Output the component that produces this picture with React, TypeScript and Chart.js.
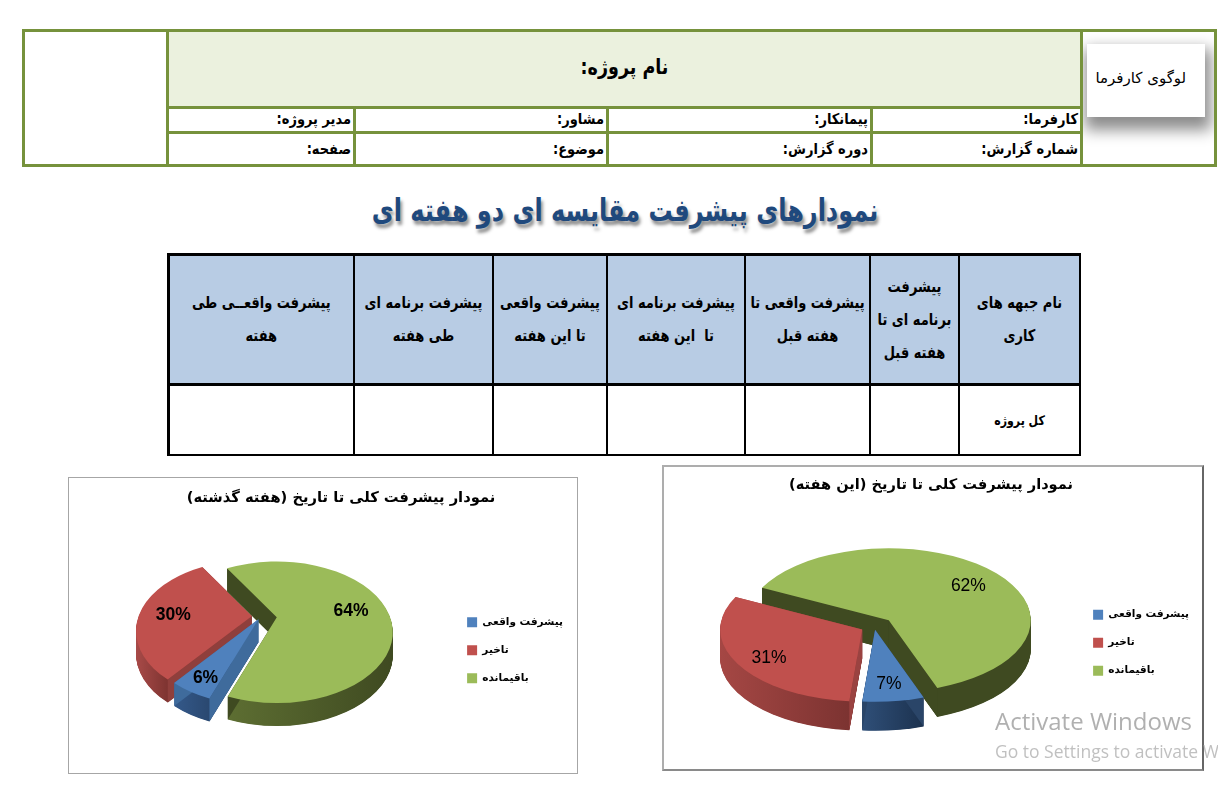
import React, { useEffect, useRef } from "react";
import { Chart, registerables } from "chart.js";

Chart.register(...registerables);

const FONT = '"DejaVu Sans", sans-serif';

// ---- data ----
const pieLabels = ["پیشرفت واقعی", "تاخیر", "باقیمانده"];
const lastWeekValues = [6, 30, 64];
const thisWeekValues = [7, 31, 62];
const pieColors = ["#4f81bd", "#c0504d", "#9bbb59"];
const lastWeekTitle = "نمودار پیشرفت کلی تا تاریخ (هفته گذشته)";
const thisWeekTitle = "نمودار پیشرفت کلی تا تاریخ (این هفته)";
const projectTitle = "نام پروژه:";
const logoText = "لوگوی کارفرما";
const pageHeading = "نمودارهای پیشرفت مقایسه ای دو هفته ای";
const infoRow1 = ["مدیر پروژه:", "مشاور:", "پیمانکار:", "کارفرما:"];
const infoRow2 = ["صفحه:", "موضوع:", "دوره گزارش:", "شماره گزارش:"];
const tableHeaders = [
  ["پیشرفت واقعــی طی", "هفته"],
  ["پیشرفت برنامه ای", "طی هفته"],
  ["پیشرفت واقعی", "تا این هفته"],
  ["پیشرفت برنامه ای", "تا  این هفته"],
  ["پیشرفت واقعی تا", "هفته قبل"],
  ["پیشرفت", "برنامه ای تا", "هفته قبل"],
  ["نام جبهه های", "کاری"],
];
const totalRowLabel = "کل پروژه";

// ---- layout ----
const infoCols: [number, number][] = [[169, 353], [356, 606], [609, 870], [873, 1080]];
const tableCols: [number, number][] = [[169.5, 353], [355, 492], [494, 606], [608, 744], [746, 869], [871, 958], [960, 1079]];

type Pie3D = {
  radius: number; squash: number; depth: number; lift: number; dx: number; dy: number;
  explode: number[]; nudgeX: number[];
  wall: [string, string][]; face: string[];
  labelFrac: number[]; labelDy: number[]; labelWeight: string;
};

const pie3dPlugin = {
  id: "pie3d",
  beforeDatasetsDraw(chart: any, _a: any, o: Pie3D) {
    const ctx: CanvasRenderingContext2D = chart.ctx;
    const meta = chart.getDatasetMeta(0);
    const values: number[] = chart.data.datasets[0].data;
    const geo = meta.data.map((arc: any, i: number) => {
      const mid = (arc.startAngle + arc.endAngle) / 2;
      const R = arc.outerRadius;
      const cx = arc.x + o.dx + Math.cos(mid) * o.explode[i] + o.nudgeX[i];
      const cy = arc.y + o.dy + Math.sin(mid) * o.explode[i] * o.squash;
      return { i, arc, mid, R, ry: R * o.squash, cx, cy, ax: cx, ay: cy - o.lift, a0: arc.startAngle, a1: arc.endAngle };
    });
    const path = (g: any, d: number) => {
      ctx.beginPath();
      ctx.moveTo(g.ax, g.ay + d);
      ctx.ellipse(g.cx, g.cy + d, g.R, g.ry, 0, g.a0, g.a1);
      ctx.closePath();
    };
    const sorted = [...geo].sort((a: any, b: any) => Math.sin(a.mid) - Math.sin(b.mid));
    sorted.forEach((g: any) => {
      let minX = Infinity, maxX = -Infinity;
      for (let s = 0; s <= 60; s++) {
        const t = g.a0 + ((g.a1 - g.a0) * s) / 60;
        if (Math.sin(t) >= 0) {
          const x = g.cx + g.R * Math.cos(t);
          minX = Math.min(minX, x);
          maxX = Math.max(maxX, x);
        }
      }
      const grad = ctx.createLinearGradient(minX, 0, maxX, 0);
      grad.addColorStop(0, o.wall[g.i][0]);
      grad.addColorStop(1, o.wall[g.i][1]);
      ctx.fillStyle = grad;
      for (let d = o.depth; d >= 1; d -= 0.5) {
        path(g, d);
        ctx.fill();
      }
      ctx.fillStyle = o.face[g.i];
      [g.a0, g.a1].forEach((t: number) => {
        const px = g.cx + g.R * Math.cos(t);
        const py = g.cy + g.ry * Math.sin(t);
        ctx.beginPath();
        ctx.moveTo(g.ax, g.ay);
        ctx.lineTo(px, py);
        ctx.lineTo(px, py + o.depth);
        ctx.lineTo(g.ax, g.ay + o.depth);
        ctx.closePath();
        ctx.fill();
      });
      ctx.fillStyle = g.arc.options.backgroundColor;
      path(g, 0);
      ctx.fill();
    });
    ctx.save();
    ctx.direction = "ltr";
    ctx.fillStyle = "#000";
    ctx.textAlign = "center";
    ctx.textBaseline = "middle";
    ctx.font = `${o.labelWeight} 17.5px "Liberation Sans", Arial, sans-serif`;
    geo.forEach((g: any) => {
      const f = o.labelFrac[g.i];
      const x = g.cx + Math.cos(g.mid) * g.R * f;
      const y = g.cy + Math.sin(g.mid) * g.ry * f + o.labelDy[g.i];
      ctx.fillText(`${values[g.i]}%`, x, y);
    });
    ctx.restore();
    return false;
  },
};

function PieChart(props: {
  box: { left: number; top: number; width: number; height: number };
  title: string; values: number[]; rotation: number; titleGap: number; padLeft: number; padTop: number;
  titleSize: number; pie: Pie3D;
}) {
  const ref = useRef<HTMLCanvasElement>(null);
  useEffect(() => {
    const chart = new Chart(ref.current as HTMLCanvasElement, {
      type: "pie",
      data: {
        labels: pieLabels,
        datasets: [{ data: props.values, backgroundColor: pieColors, borderWidth: 0 }],
      },
      options: {
        animation: false,
        responsive: false,
        devicePixelRatio: 1,
        rotation: props.rotation,
        radius: props.pie.radius,
        layout: { padding: { left: props.padLeft, right: 4, top: props.padTop, bottom: 0 } },
        plugins: {
          tooltip: { enabled: false },
          title: {
            display: true,
            text: props.title,
            color: "#000",
            font: { family: FONT, size: props.titleSize, weight: "bold" },
            padding: { top: 0, bottom: props.titleGap },
          },
          legend: {
            position: "right",
            fullSize: false,
            labels: {
              boxWidth: 10,
              boxHeight: 10,
              padding: 17.5,
              color: "#000",
              font: { family: FONT, size: 10.5, weight: "bold" },
            },
          },
          pie3d: props.pie,
        },
      } as any,
      plugins: [pie3dPlugin as any],
    });
    return () => chart.destroy();
  }, []);
  return (
    <canvas
      ref={ref}
      dir="rtl"
      width={props.box.width}
      height={props.box.height}
      style={{ position: "absolute", left: props.box.left, top: props.box.top, width: props.box.width, height: props.box.height, display: "block" }}
    />
  );
}

function Rect(p: { l: number; t: number; r: number; b: number; bg?: string; style?: React.CSSProperties; children?: React.ReactNode }) {
  return (
    <div style={{ position: "absolute", left: p.l, top: p.t, width: p.r - p.l, height: p.b - p.t, background: p.bg, ...p.style }}>
      {p.children}
    </div>
  );
}

function Tall(p: { sy: number; children?: React.ReactNode }) {
  return <span style={{ display: "inline-block", transform: `scaleY(${p.sy})` }}>{p.children}</span>;
}

const centered: React.CSSProperties = { display: "flex", alignItems: "center", justifyContent: "center", textAlign: "center", flexDirection: "column" };
const infoText: React.CSSProperties = { display: "flex", alignItems: "center", justifyContent: "flex-start", direction: "rtl", paddingRight: 2, boxSizing: "border-box", fontWeight: 700, fontSize: 13, color: "#000" };

const leftPie: Pie3D = {
  radius: 116, squash: 0.61, depth: 23, lift: 15, dx: -15.5, dy: -18,
  explode: [4, 12, 13], nudgeX: [-3, 0, 0],
  wall: [["#34598a", "#2a4870"], ["#a84a48", "#7e3431"], ["#5d6e32", "#3f4a21"]],
  face: ["#3f6b9c", "#8f3f3c", "#3f4a21"],
  labelFrac: [0.78, 0.69, 0.64], labelDy: [-1, -7, -21], labelWeight: "bold",
};
const rightPie: Pie3D = {
  radius: 142, squash: 0.507, depth: 29, lift: 0, dx: 9.5, dy: -18,
  explode: [10, 19, 13.3], nudgeX: [-5, 0, 0],
  wall: [["#2f4f78", "#1c324f"], ["#a54744", "#7c3331"], ["#3f4a21", "#3f4a21"]],
  face: ["#2a4568", "#9a4341", "#3f4a21"],
  labelFrac: [0.75, 0.75, 0.75], labelDy: [1, 3, 2], labelWeight: "normal",
};

export default function App() {
  return (
    <div style={{ position: "absolute", left: 0, top: 0, width: 1218, height: 794, overflow: "hidden", background: "#fff", fontFamily: FONT, color: "#000" }}>
      {/* header block */}
      <Rect l={22} t={29} r={1217} b={167} bg="#76923c" />
      <Rect l={25} t={32} r={166} b={164} bg="#fff" />
      <Rect l={169} t={32} r={1080} b={106} bg="#ebf1de" style={{ ...centered, fontWeight: 700, fontSize: 17.5, direction: "rtl", paddingBottom: 4, boxSizing: "border-box" }}><Tall sy={1.2}>{projectTitle}</Tall></Rect>
      {infoCols.map((c, i) => (
        <Rect key={"a" + i} l={c[0]} t={109} r={c[1]} b={131} bg="#fff" style={{ ...infoText, paddingBottom: 3 }}><Tall sy={1.15}>{infoRow1[i]}</Tall></Rect>
      ))}
      {infoCols.map((c, i) => (
        <Rect key={"b" + i} l={c[0]} t={134} r={c[1]} b={164} bg="#fff" style={{ ...infoText, paddingBottom: 2 }}><Tall sy={1.15}>{infoRow2[i]}</Tall></Rect>
      ))}
      <Rect l={1083} t={32} r={1214} b={164} bg="#fff" style={{ overflow: "hidden" }}>
        <Rect l={3.5} t={12} r={122} b={85} bg="#fff" style={{ ...centered, fontSize: 15, direction: "rtl", boxShadow: "2px 9px 14px 4px rgba(0,0,0,0.45)", paddingBottom: 5, paddingRight: 10, boxSizing: "border-box" }}>{logoText}</Rect>
      </Rect>

      {/* heading */}
      <div style={{ position: "absolute", left: 225, top: 189, width: 800, height: 44, ...centered, direction: "rtl", fontWeight: 700, fontSize: 24, color: "#1f497d", whiteSpace: "nowrap" }}>
        <span style={{ display: "inline-block", transform: "scaleY(1.3)", textShadow: "2px 3px 3px rgba(0,0,0,0.45)" }}>{pageHeading}</span>
      </div>

      {/* table */}
      <Rect l={167} t={253} r={1081} b={456} bg="#000" />
      {tableCols.map((c, i) => (
        <Rect key={"h" + i} l={c[0]} t={255.5} r={c[1]} b={383} bg="#b8cce4" style={{ ...centered, direction: "rtl", fontWeight: 700, fontSize: 13, lineHeight: "33px", whiteSpace: "pre" }}>
          {tableHeaders[i].map((line, j) => <div key={j}><Tall sy={1.25}>{line}</Tall></div>)}
        </Rect>
      ))}
      {tableCols.map((c, i) => (
        <Rect key={"c" + i} l={c[0]} t={386} r={c[1]} b={454} bg="#fff" style={{ ...centered, direction: "rtl", fontWeight: 700, fontSize: 11 }}>
          {i === tableCols.length - 1 ? <Tall sy={1.2}>{totalRowLabel}</Tall> : null}
        </Rect>
      ))}

      {/* charts */}
      <PieChart box={{ left: 68, top: 477, width: 509, height: 296 }} title={lastWeekTitle} values={lastWeekValues} rotation={205} titleGap={21} padLeft={41} padTop={12} titleSize={14.7} pie={leftPie} />
      <Rect l={67.5} t={477} r={577.5} b={773.5} style={{ border: "1px solid #a6a6a6", boxSizing: "border-box" }} />
      <PieChart box={{ left: 663, top: 465, width: 540, height: 305 }} title={thisWeekTitle} values={thisWeekValues} rotation={160} titleGap={22} padLeft={0} padTop={11} titleSize={14.6} pie={rightPie} />
      <Rect l={662} t={464.5} r={1204} b={771} style={{ border: "2px solid #adadad", borderRightColor: "#666", borderBottomColor: "#8a8a8a", boxSizing: "border-box" }} />

      {/* watermark */}
      <div style={{ position: "absolute", left: 995, top: 705, fontFamily: '"Open Sans", sans-serif', fontSize: 24, lineHeight: "32px", color: "rgba(150,150,150,0.75)", whiteSpace: "nowrap" }}>Activate Windows</div>
      <div style={{ position: "absolute", left: 995, top: 740, fontFamily: '"Open Sans", sans-serif', fontSize: 17.5, lineHeight: "22px", color: "rgba(150,150,150,0.6)", whiteSpace: "nowrap" }}>Go to Settings to activate Windows.</div>
    </div>
  );
}
